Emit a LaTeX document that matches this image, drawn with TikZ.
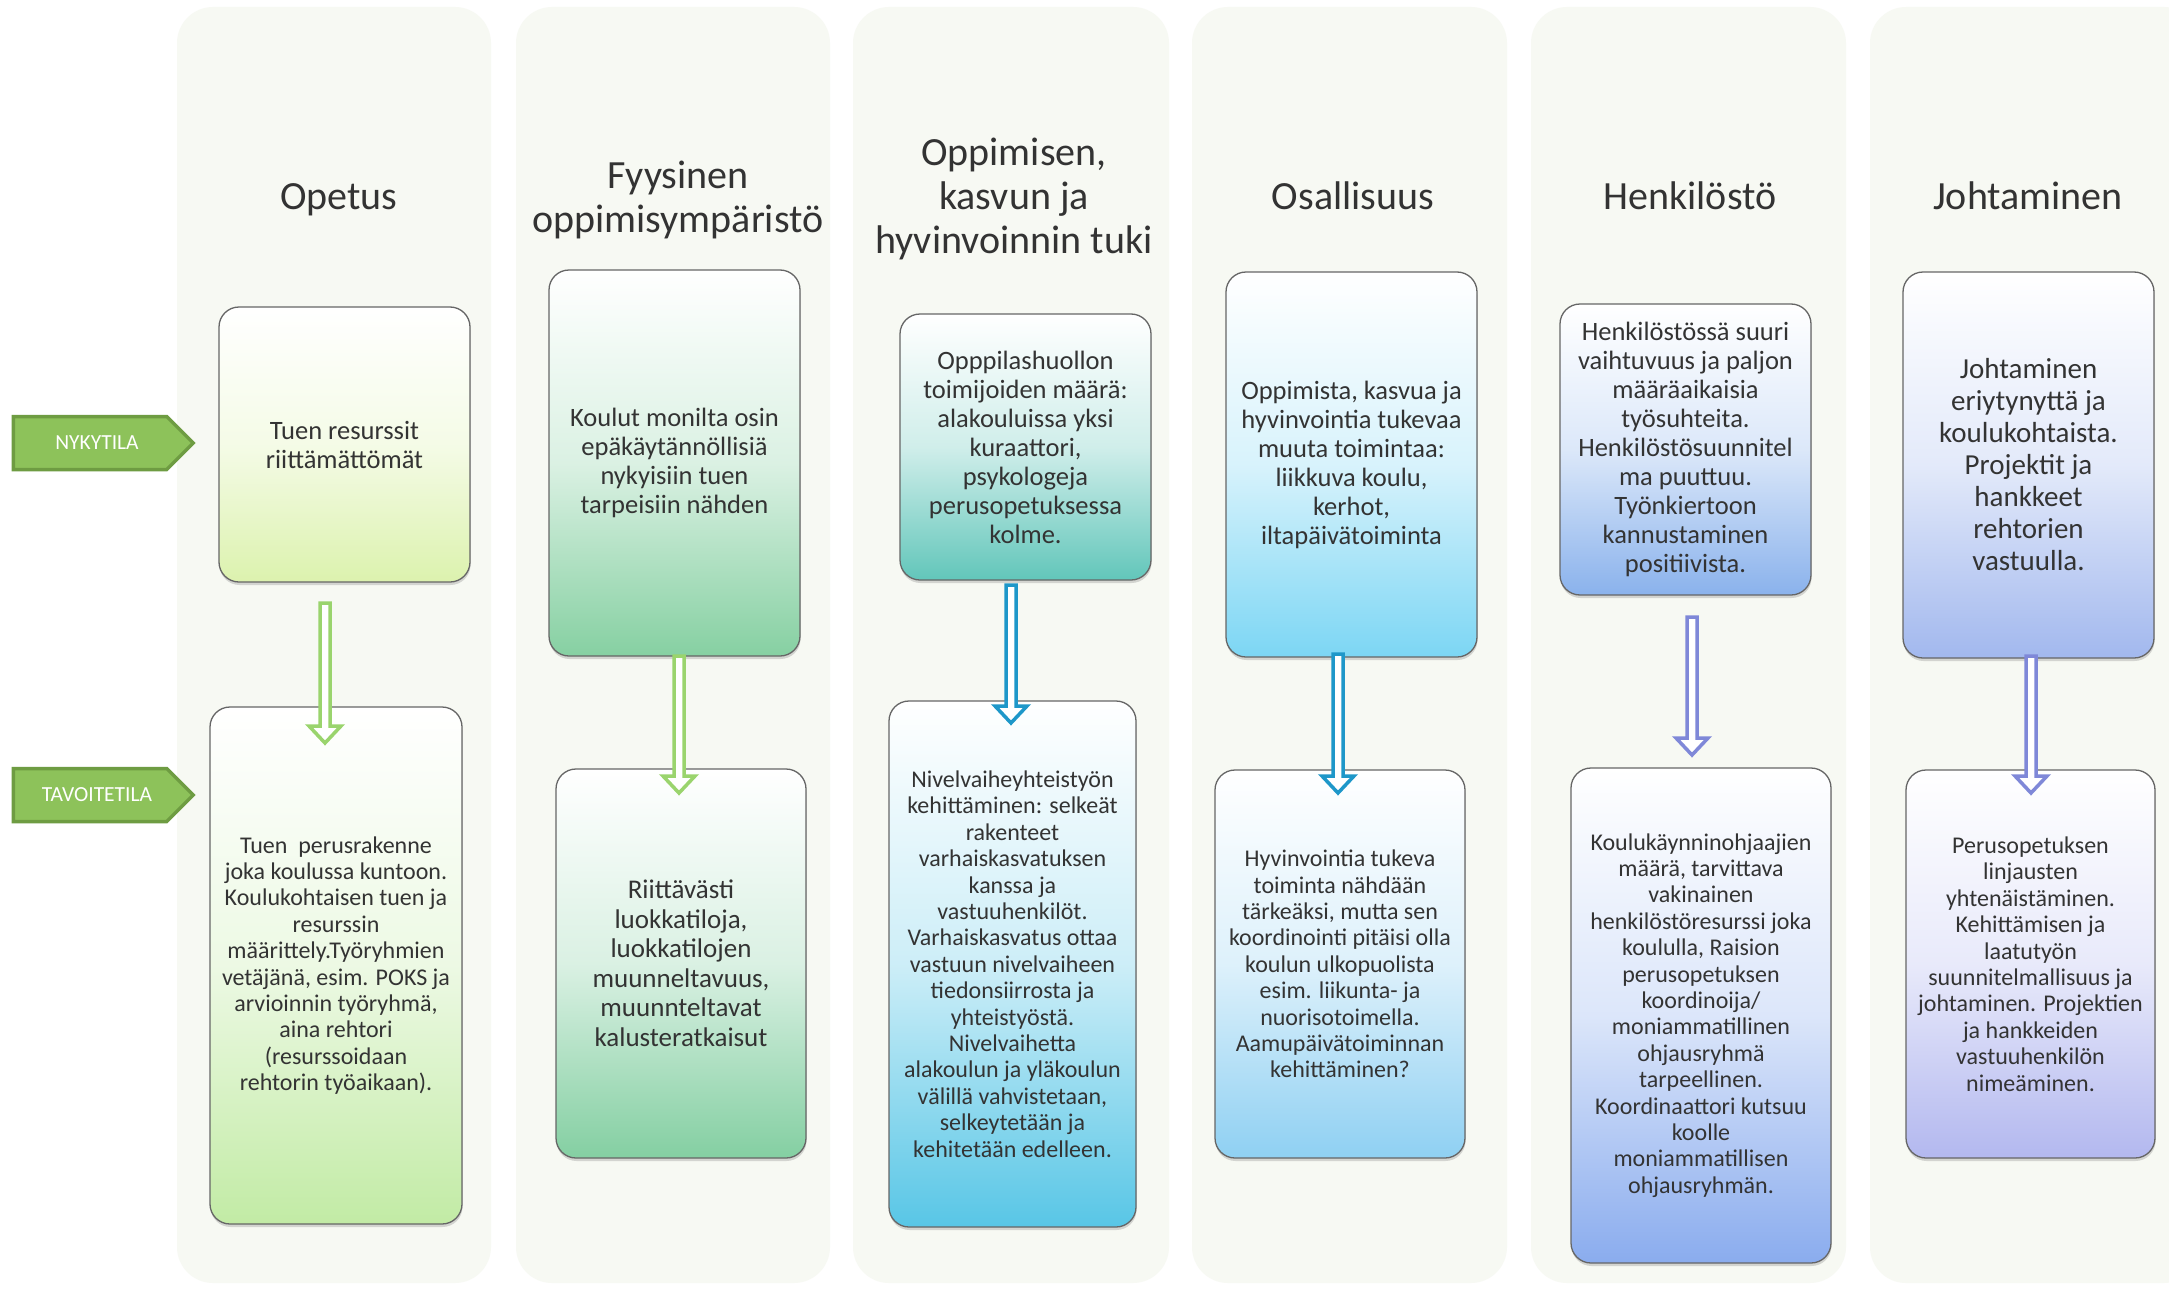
\documentclass[tikz,border=0pt]{standalone}
\usepackage{fontspec}
\setmainfont{Carlito}
\usetikzlibrary{shapes.symbols,shadows,calc}
\definecolor{stripc}{HTML}{F7F9F3}
\definecolor{txt}{HTML}{333333}
\definecolor{boxline}{HTML}{666666}
\definecolor{tagfill}{HTML}{8DC25A}
\definecolor{tagline}{HTML}{6E9C42}
\definecolor{ca}{HTML}{DCF2AE}
\definecolor{cb}{HTML}{C2EBA5}
\definecolor{cc}{HTML}{86D0A2}
\definecolor{cd}{HTML}{84CFA2}
\definecolor{ce}{HTML}{62C6BA}
\definecolor{cf}{HTML}{58C6E6}
\definecolor{cg}{HTML}{7CD6F4}
\definecolor{ch}{HTML}{8FD0F2}
\definecolor{ci}{HTML}{8AB2EC}
\definecolor{cj}{HTML}{8AACEE}
\definecolor{ck}{HTML}{A2B8EE}
\definecolor{cl}{HTML}{B3B8EF}
\definecolor{arga}{HTML}{9AD46D}
\definecolor{argb}{HTML}{1E97C9}
\definecolor{argc}{HTML}{7F88D8}
\newcommand\hollowarrow[3]{\draw[#1, line width=3.5pt, fill=white, line join=miter]
  let \p1=(#2), \p2=(#3) in
  (\x1-5pt,\y1) -- (\x1+5pt,\y1) -- (\x1+5pt,\y2+17pt) -- (\x1+16pt,\y2+17pt) --
  (\x1,\y2) -- (\x1-16pt,\y2+17pt) -- (\x1-5pt,\y2+17pt) -- cycle;}
\begin{document}
\begin{tikzpicture}[x=1pt,y=-1pt,
  colstrip/.style={fill=stripc, rounded corners=36pt},
  box/.style={draw=boxline, line width=1.3pt, rounded corners=20pt, align=center,
    inner sep=4pt, text=txt, font=\fontsize{26.5}{29}\selectfont,
    drop shadow={shadow xshift=0.5pt, shadow yshift=-3pt, opacity=0.3}},
  smalltext/.style={font=\fontsize{24}{26.4}\selectfont},
  head/.style={align=center, text=txt, font=\fontsize{40}{44}\selectfont},
  statetag/.style={signal, signal to=east, fill=tagfill, draw=tagline, line width=3.5pt,
    text=white, font=\fontsize{21.5}{24}\selectfont, minimum width=180pt,
    minimum height=53pt, inner sep=2pt},
]
\path[use as bounding box, clip] (0,0) rectangle (2169,1290);
\fill[white] (0,0) rectangle (2169,1290);
% column strips
\fill[colstrip] (177,7) rectangle (491,1283);
\fill[colstrip] (516,7) rectangle (830,1283);
\fill[colstrip] (853,7) rectangle (1169,1283);
\fill[colstrip] (1192,7) rectangle (1507,1283);
\fill[colstrip] (1531,7) rectangle (1846,1283);
\fill[colstrip] (1870,7) rectangle (2200,1283);
% headers
\node[head, anchor=base] (h1) at (339,209) {Opetus};
\node[head] (h2) at (678,200) {Fyysinen\\oppimisympäristö};
\node[head] (h3) at (1014,199) {Oppimisen,\\kasvun ja\\hyvinvoinnin tuki};
\node[head, anchor=base] (h4) at (1353,209) {Osallisuus};
\node[head, anchor=base] (h5) at (1690,209) {Henkilöstö};
\node[head, anchor=base] (h6) at (2028,209) {Johtaminen};
% state tags
\node[statetag] (nyk) at (90,443) {\hspace*{14pt}NYKYTILA};
\node[statetag] (tav) at (90,795) {\hspace*{14pt}TAVOITETILA};
% column 1
\node[box, top color=white, bottom color=ca, middle color=ca!30!white,
  minimum width=251pt, minimum height=275pt] (t1) at (344.5,444.5)
  {Tuen resurssit\\riittämättömät};
\node[box, smalltext, top color=white, bottom color=cb, middle color=cb!30!white,
  minimum width=252pt, minimum height=517pt] (b1) at (336,965.5)
  {Tuen\ \ perusrakenne\\joka koulussa kuntoon.\\Koulukohtaisen tuen ja\\resurssin\\määrittely.Työryhmien\\vetäjänä, esim. POKS ja\\arvioinnin työryhmä,\\aina rehtori\\(resurssoidaan\\rehtorin työaikaan).};
% column 2
\node[box, top color=white, bottom color=cc, middle color=cc!30!white,
  minimum width=251pt, minimum height=386pt] (t2) at (674.5,463)
  {Koulut monilta osin\\epäkäytännöllisiä\\nykyisiin tuen\\tarpeisiin nähden};
\node[box, font=\fontsize{27}{29.5}\selectfont, top color=white, bottom color=cd, middle color=cd!30!white,
  minimum width=250pt, minimum height=389pt] (b2) at (681,963.5)
  {Riittävästi\\luokkatiloja,\\luokkatilojen\\muunneltavuus,\\muunnteltavat\\kalusteratkaisut};
% column 3
\node[box, top color=white, bottom color=ce, middle color=ce!30!white,
  minimum width=251pt, minimum height=266pt] (t3) at (1025.5,447)
  {Opppilashuollon\\toimijoiden määrä:\\alakouluissa yksi\\kuraattori,\\psykologeja\\perusopetuksessa\\kolme.};
\node[box, smalltext, top color=white, bottom color=cf, middle color=cf!30!white,
  minimum width=247pt, minimum height=526pt] (b3) at (1012.5,964)
  {Nivelvaiheyhteistyön\\kehittäminen: selkeät\\rakenteet\\varhaiskasvatuksen\\kanssa ja\\vastuuhenkilöt.\\Varhaiskasvatus ottaa\\vastuun nivelvaiheen\\tiedonsiirrosta ja\\yhteistyöstä.\\Nivelvaihetta\\alakoulun ja yläkoulun\\välillä vahvistetaan,\\selkeytetään ja\\kehitetään edelleen.};
% column 4
\node[box, top color=white, bottom color=cg, middle color=cg!30!white,
  minimum width=251pt, minimum height=385pt] (t4) at (1351.5,464.5)
  {Oppimista, kasvua ja\\hyvinvointia tukevaa\\muuta toimintaa:\\liikkuva koulu,\\kerhot,\\iltapäivätoiminta};
\node[box, smalltext, top color=white, bottom color=ch, middle color=ch!30!white,
  minimum width=250pt, minimum height=388pt] (b4) at (1340,964)
  {Hyvinvointia tukeva\\toiminta nähdään\\tärkeäksi, mutta sen\\koordinointi pitäisi olla\\koulun ulkopuolista\\esim. liikunta- ja\\nuorisotoimella.\\Aamupäivätoiminnan\\kehittäminen?};
% column 5
\node[box, top color=white, bottom color=ci, middle color=ci!30!white,
  minimum width=251pt, minimum height=291pt] (t5) at (1685.5,449.5)
  {Henkilöstössä suuri\\vaihtuvuus ja paljon\\määräaikaisia\\työsuhteita.\\Henkilöstösuunnitel\\ma puuttuu.\\Työnkiertoon\\kannustaminen\\positiivista.};
\node[box, smalltext, top color=white, bottom color=cj, middle color=cj!30!white,
  minimum width=260pt, minimum height=495pt] (b5) at (1701,1015.5)
  {Koulukäynninohjaajien\\määrä, tarvittava\\vakinainen\\henkilöstöresurssi joka\\koululla, Raision\\perusopetuksen\\koordinoija/\\moniammatillinen\\ohjausryhmä\\tarpeellinen.\\Koordinaattori kutsuu\\koolle\\moniammatillisen\\ohjausryhmän.};
% column 6
\node[box, font=\fontsize{29}{32}\selectfont, top color=white, bottom color=ck, middle color=ck!30!white,
  minimum width=251pt, minimum height=386pt] (t6) at (2028.5,465)
  {Johtaminen\\eriytynyttä ja\\koulukohtaista.\\Projektit ja\\hankkeet\\rehtorien\\vastuulla.};
\node[box, smalltext, top color=white, bottom color=cl, middle color=cl!30!white,
  minimum width=249pt, minimum height=388pt] (b6) at (2030.5,964)
  {Perusopetuksen\\linjausten\\yhtenäistäminen.\\Kehittämisen ja\\laatutyön\\suunnitelmallisuus ja\\johtaminen. Projektien\\ja hankkeiden\\vastuuhenkilön\\nimeäminen.};
% arrows
\coordinate (a1s) at (325,603);  \coordinate (a1e) at (325,743);
\coordinate (a2s) at (679,656);  \coordinate (a2e) at (679,793);
\coordinate (a3s) at (1011,585); \coordinate (a3e) at (1011,723);
\coordinate (a4s) at (1338,654); \coordinate (a4e) at (1338,793);
\coordinate (a5s) at (1692,617); \coordinate (a5e) at (1692,755);
\coordinate (a6s) at (2031,656); \coordinate (a6e) at (2031,793);
\hollowarrow{arga}{a1s}{a1e}
\hollowarrow{arga}{a2s}{a2e}
\hollowarrow{argb}{a3s}{a3e}
\hollowarrow{argb}{a4s}{a4e}
\hollowarrow{argc}{a5s}{a5e}
\hollowarrow{argc}{a6s}{a6e}
\end{tikzpicture}
\end{document}
